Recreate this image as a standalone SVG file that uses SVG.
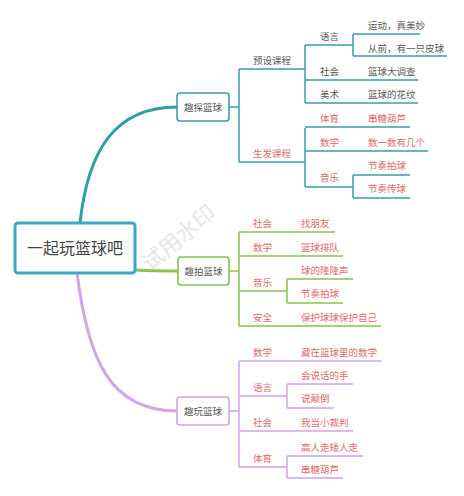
<svg xmlns="http://www.w3.org/2000/svg" width="464" height="496" viewBox="0 0 464 496">
<style>
text{font-family:"Noto Sans CJK SC","Noto Sans",sans-serif;font-size:9.5px}
.g{fill:#5a5a5a}
.r{fill:#e06c6c}
.t{fill:none;stroke:#3a9ea8;stroke-width:1.5}
.gr{fill:none;stroke:#8cc152;stroke-width:1.5}
.p{fill:none;stroke:#d4a3ea;stroke-width:1.5}
.box{fill:#fff;stroke-width:1.6}
</style>
<rect width="464" height="496" fill="#fff"/>
<text x="0" y="0" transform="translate(150,272) rotate(-40)" style="font-size:22px;fill:#e6e6e6">试用水印</text>
<g id="connectors">
<path d="M80,223 C88,150 115,107 177,107" fill="none" stroke="#2f9ea8" stroke-width="3"/>
<path d="M135,270 C150,271 160,271 178,271" fill="none" stroke="#8cc152" stroke-width="3"/>
<path d="M77,273 C88,360 110,411 177,411" fill="none" stroke="#d4a3ea" stroke-width="3"/>
<path class="t" d="M229,107H239M239,69V162M239,69H305M239,162H305M305,45V103M305,45H353M353,34V56M353,34H420M353,56H447M305,80H418M305,103H418M305,128V187M305,127H410M305,151H428M305,187H353M353,175V198M353,175H410M353,198H410"/>
<path class="gr" d="M229,271H239M239,232V326M239,232H335M239,256H343M239,291H287M287,279V303M287,279H353M287,303H343M239,326H381"/>
<path class="p" d="M229,411H239M239,361V467M239,361H381M239,396H287M287,384V408M287,384H353M287,408H334M239,431H353M239,467H287M287,456V478M287,456H363M287,478H343"/>
</g>
<g id="root">
<rect x="15" y="223" width="120" height="50" rx="3" fill="#fff" stroke="#3aa8c8" stroke-width="3"/>
<text x="75" y="254" text-anchor="middle" class="g" style="font-size:16px;fill:#444">一起玩篮球吧</text>
</g>
<g id="n1">
<rect class="box" x="177" y="93" width="52" height="28" rx="3" stroke="#3a9ea8"/>
<text x="203" y="110.5" text-anchor="middle" class="g">趣探篮球</text>
</g>
<g id="n2">
<rect class="box" x="178" y="257" width="51" height="28" rx="3" stroke="#8cc152"/>
<text x="203.5" y="274.5" text-anchor="middle" class="g">趣拍篮球</text>
</g>
<g id="n3">
<rect class="box" x="177" y="397" width="52" height="28" rx="3" stroke="#d4a3ea"/>
<text x="203" y="414.5" text-anchor="middle" class="g">趣玩篮球</text>
</g>
<g id="b1">
<text x="253" y="63.5" class="g">预设课程</text>
<text x="320" y="40" class="g">语言</text>
<text x="368" y="28.5" class="g">运动，真美妙</text>
<text x="368" y="52" class="g">从前，有一只皮球</text>
<text x="320" y="74.5" class="g">社会</text>
<text x="368" y="74.5" class="g">篮球大调查</text>
<text x="320" y="97.5" class="g">美术</text>
<text x="368" y="97.5" class="g">篮球的花纹</text>
<text x="253" y="156.5" class="r">生发课程</text>
<text x="320" y="121.5" class="r">体育</text>
<text x="368" y="121.5" class="r">串糖葫芦</text>
<text x="320" y="145.5" class="r">数学</text>
<text x="368" y="145.5" class="r">数一数有几个</text>
<text x="320" y="180.5" class="r">音乐</text>
<text x="368" y="168.5" class="r">节奏拍球</text>
<text x="368" y="191.5" class="r">节奏传球</text>
</g>
<g id="b2">
<text x="253" y="226.5" class="r">社会</text>
<text x="301" y="226.5" class="r">找朋友</text>
<text x="253" y="250.5" class="r">数学</text>
<text x="301" y="250.5" class="r">篮球排队</text>
<text x="253" y="285.5" class="r">音乐</text>
<text x="301" y="273.5" class="r">球的隆隆声</text>
<text x="301" y="296.5" class="r">节奏拍球</text>
<text x="253" y="320.5" class="r">安全</text>
<text x="301" y="320.5" class="r">保护球球保护自己</text>
</g>
<g id="b3">
<text x="253" y="355.5" class="r">数学</text>
<text x="301" y="355.5" class="r">藏在篮球里的数学</text>
<text x="253" y="390.5" class="r">语言</text>
<text x="301" y="378.5" class="r">会说话的手</text>
<text x="301" y="401.5" class="r">说颠倒</text>
<text x="253" y="425.5" class="r">社会</text>
<text x="301" y="425.5" class="r">我当小裁判</text>
<text x="253" y="461.5" class="r">体育</text>
<text x="301" y="450.5" class="r">高人走矮人走</text>
<text x="301" y="472.5" class="r">串糖葫芦</text>
</g>
</svg>
